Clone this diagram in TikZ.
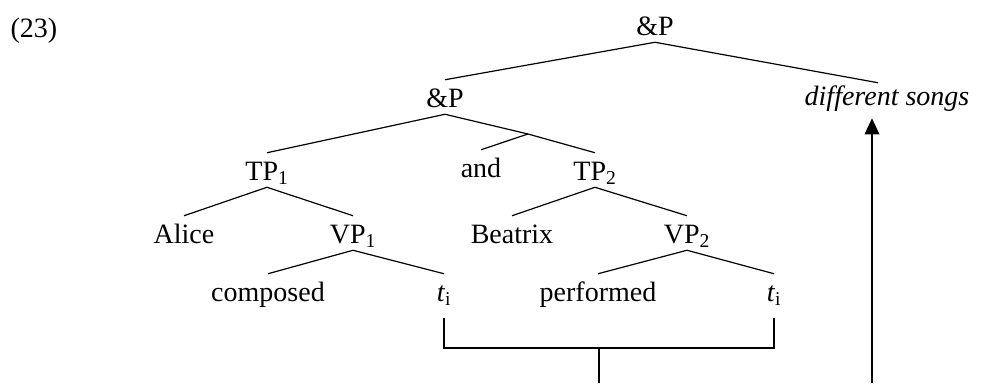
\documentclass[tikz,border=0pt]{standalone}
\usepackage{fontspec}
\setmainfont{Liberation Serif}
\usetikzlibrary{arrows.meta}
\begin{document}
\begin{tikzpicture}[x=0.75pt,y=-0.75pt,line width=0.9pt,%
% common options for the tree labels:
lab/.style = {font=\fontsize{21}{25}\selectfont, anchor=base,
            inner xsep=0, inner ysep=5pt, text height=15pt, text depth=0pt},
% common options for the movement arrow:
move/.style = {-{Triangle[width=11pt,length=12pt]}, shorten >=4.5pt}]
\useasboundingbox (0,0) rectangle (981,383);
\node[lab,anchor=base west] (ex) at (10,37) {(23)};
\node[lab] (R) at (655,35) {\&P};
\node[lab] (P1) at (445,107) {\&P};
\node[lab] (S) at (887,105) {\textit{different songs}};
\coordinate (j) at (528,134);
\node[lab] (TP1) at (267,180) {TP\textsubscript{1}};
\node[lab] (and) at (481,177) {and};
\node[lab] (TP2) at (595,180) {TP\textsubscript{2}};
\node[lab] (A) at (184,243) {Alice};
\node[lab] (VP1) at (353,243) {VP\textsubscript{1}};
\node[lab] (B) at (512,243) {Beatrix};
\node[lab] (VP2) at (687,243) {VP\textsubscript{2}};
\node[lab] (C) at (268,301) {composed};
\node[lab] (T1) at (444,301) {\textit{t}\textsubscript{i}};
\node[lab] (Pf) at (598,301) {performed};
\node[lab] (T2) at (774,301) {\textit{t}\textsubscript{i}};
\coordinate (m) at (599,348);
\coordinate (mb) at (599,383);
\coordinate (ab) at (872,383);
\draw (R.south) -- (P1.north);
\draw (R.south) -- ([shift={(-9,5)}]S.north);
\draw (P1.south) -- (TP1.north);
\draw (P1.south) -- (j) -- (TP2.north);
\draw (j) -- (and.north);
\draw (TP1.south) -- (A.north);
\draw (TP1.south) -- (VP1.north);
\draw (TP2.south) -- (B.north);
\draw (TP2.south) -- (VP2.north);
\draw (VP1.south) -- (C.north);
\draw (VP1.south) -- (T1.north);
\draw (VP2.south) -- (Pf.north);
\draw (VP2.south) -- (T2.north);
\draw ([yshift=-7pt]T1.south) |- (m) -| ([yshift=-7pt]T2.south);
\draw (m) -- (mb);
\draw[move] (ab) -- (ab |- S.south);
\end{tikzpicture}
\end{document}
